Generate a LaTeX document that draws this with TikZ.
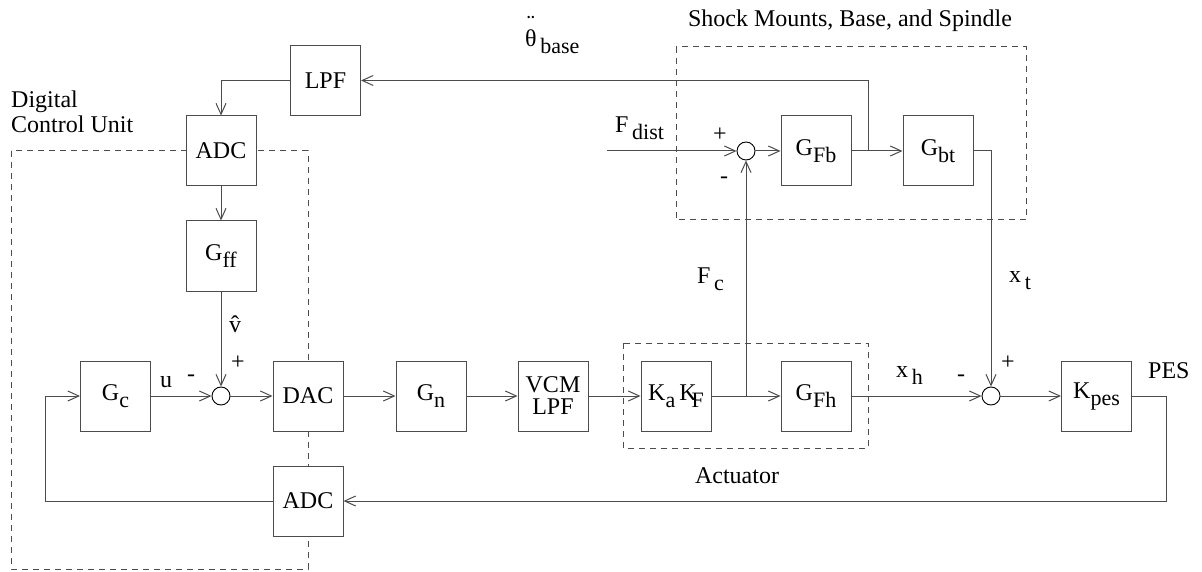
\documentclass[tikz,border=0pt]{standalone}
\usepackage{fontspec}
\setmainfont{Liberation Serif}
\usetikzlibrary{arrows.meta}
\newcommand\sbx[1]{\raisebox{-7pt}{\fontsize{22}{22}\selectfont #1}}
\begin{document}
\begin{tikzpicture}[x=1pt,y=-1pt,
  every node/.style={font=\fontsize{24}{28}\selectfont, inner sep=0pt},
  blk/.style={draw=black!70, line width=1pt, fill=white, minimum width=70pt, minimum height=70pt},
  sumc/.style={draw=black, line width=0.9pt, fill=white, circle, minimum size=18pt},
  ln/.style={draw=black!70, line width=1pt},
  arr/.style={ln, -{Straight Barb[length=11pt,width=10pt]}},
  dsh/.style={draw=black!70, line width=1pt, dash pattern=on 6pt off 5pt}]
\useasboundingbox (0,0) rectangle (1202,572);
% dashed groups
\draw[dsh] (11,151) rectangle (308,569);
\draw[dsh] (623,343) rectangle (868,448);
\draw[dsh] (676,47) rectangle (1026,220);
% blocks
\node[blk] (lpf) at (325.5,80.5) {LPF};
\node[blk] (adc1) at (221,151) {ADC};
\node[blk] (gff) at (221,256) {G\sbx{ff}};
\node[blk] (gc) at (115.5,396) {G\sbx{c}};
\node[sumc] (s1) at (221,396) {};
\node[blk] (dac) at (308,396) {DAC};
\node[blk] (adc2) at (308,501) {ADC};
\node[blk] (gn) at (431,396) {G\sbx{n}};
\node[blk, align=center] (vcm) at (553,396) {VCM\\[-6pt]LPF};
\node[blk] (kakf) at (676,396) {K\sbx{a}\,K\hspace{-5pt}\sbx{F}};
\node[blk] (gfh) at (816,396) {G\sbx{Fh}};
\node[sumc] (s3) at (991,396) {};
\node[blk] (kpes) at (1096.5,396) {K\sbx{pes}};
\node[sumc] (s2) at (746,151) {};
\node[blk] (gfb) at (816,151) {G\sbx{Fb}};
\node[blk] (gbt) at (938,151) {G\sbx{bt}};
% helper coordinates
\coordinate (j1) at (746,396);
\coordinate (j2) at (868,151);
\coordinate (fd) at (607,151);
\coordinate (pesr) at (1166,396);
\coordinate (fbl) at (45,501);
% connectors
\draw[arr] (lpf.west) -| (adc1.north);
\draw[arr] (adc1.south) -- (gff.north);
\draw[arr] (gff.south) -- (s1.north);
\draw[arr] (gc.east) -- (s1.west);
\draw[arr] (s1.east) -- (dac.west);
\draw[arr] (dac.east) -- (gn.west);
\draw[arr] (gn.east) -- (vcm.west);
\draw[arr] (vcm.east) -- (kakf.west);
\draw[arr] (kakf.east) -- (gfh.west);
\draw[arr] (j1) -- (s2.south);
\draw[arr] (gfh.east) -- (s3.west);
\draw[arr] (s3.east) -- (kpes.west);
\draw[arr] (kpes.east) -- (pesr) |- (adc2.east);
\draw[arr] (adc2.west) -- (fbl) |- (gc.west);
\draw[arr] (fd) -- (s2.west);
\draw[arr] (s2.east) -- (gfb.west);
\draw[arr] (gfb.east) -- (gbt.west);
\draw[arr] (j2) |- (lpf.east);
\draw[arr] (gbt.east) -| (s3.north);
% labels
\node[anchor=base west] (t1) at (11,108) {Digital};
\node[anchor=base west] (t2) at (11,133) {Control Unit};
\node[anchor=base] (t3) at (850,27) {Shock Mounts, Base, and Spindle};
\node[anchor=base] (t4) at (737,483) {Actuator};
\node[anchor=base west] (th) at (525,47) {\ooalign{θ\cr\hidewidth\raisebox{15pt}{¨}\hidewidth\cr}\sbx{\,base}};
\node[anchor=base west] (fdl) at (615,133) {F\sbx{\,dist}};
\node[anchor=base west] (fcl) at (697,283) {F\sbx{\,c}};
\node[anchor=base west] (xtl) at (1009,282) {x\sbx{\,t}};
\node[anchor=base west] (xhl) at (896,377) {x\sbx{\,h}};
\node[anchor=base west] (pes) at (1148,378) {PES};
\node[anchor=base west] (ul) at (160,387) {u};
\node (vh) at (235,324) {\^{v}};
\node (p1) at (238,363) {+};
\node (m1) at (191,378) {-};
\node (p2) at (720,135) {+};
\node (m2) at (724,180) {-};
\node (p3) at (1008,363) {+};
\node (m3) at (961,378) {-};
\end{tikzpicture}
\end{document}
